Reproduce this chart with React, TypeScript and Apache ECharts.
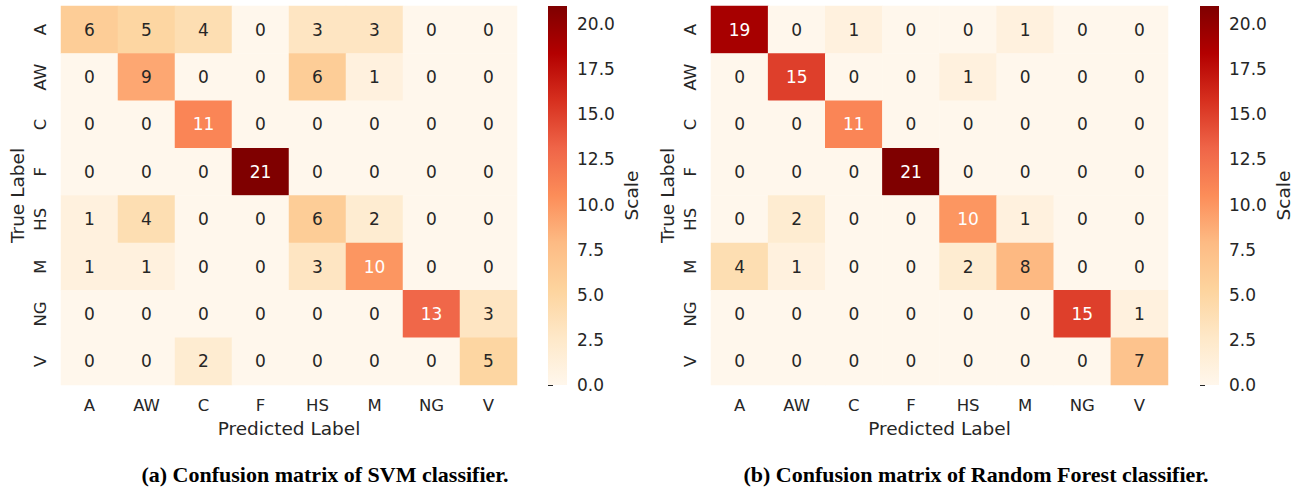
import React, { useEffect, useRef } from "react";
import * as echarts from "echarts";

const labels = ["A", "AW", "C", "F", "HS", "M", "NG", "V"];
const svmMatrix = [
  [6, 5, 4, 0, 3, 3, 0, 0],
  [0, 9, 0, 0, 6, 1, 0, 0],
  [0, 0, 11, 0, 0, 0, 0, 0],
  [0, 0, 0, 21, 0, 0, 0, 0],
  [1, 4, 0, 0, 6, 2, 0, 0],
  [1, 1, 0, 0, 3, 10, 0, 0],
  [0, 0, 0, 0, 0, 0, 13, 3],
  [0, 0, 2, 0, 0, 0, 0, 5],
];
const rfMatrix = [
  [19, 0, 1, 0, 0, 1, 0, 0],
  [0, 15, 0, 0, 1, 0, 0, 0],
  [0, 0, 11, 0, 0, 0, 0, 0],
  [0, 0, 0, 21, 0, 0, 0, 0],
  [0, 2, 0, 0, 10, 1, 0, 0],
  [4, 1, 0, 0, 2, 8, 0, 0],
  [0, 0, 0, 0, 0, 0, 15, 1],
  [0, 0, 0, 0, 0, 0, 0, 7],
];
const scaleMin = 0;
const scaleMax = 21;
const scaleTicks = [0, 2.5, 5, 7.5, 10, 12.5, 15, 17.5, 20];
const orRd = ["#fff7ec", "#fee8c8", "#fdd49e", "#fdbb84", "#fc8d59", "#ef6548", "#d7301f", "#b30000", "#7f0000"];
const captions = ["(a) Confusion matrix of SVM classifier.", "(b) Confusion matrix of Random Forest classifier."];

const FONT = "DejaVu Sans";
const TXT = "#262626";
const TICK_FS = 16.5;
const NAME_FS = 18.5;
const CELL_FS = 17;

function toData(m: number[][]) {
  const out: any[] = [];
  m.forEach((row, r) =>
    row.forEach((v, c) => {
      out.push({
        value: [c, r, v],
        label: { color: v >= 10 ? "#ffffff" : TXT },
      });
    })
  );
  return out;
}

export default function App() {
  const ref = useRef<HTMLDivElement>(null);
  useEffect(() => {
    document.body.style.margin = "0";
    const chart = echarts.init(ref.current!, null, { renderer: "svg" });
    const grids = [
      { left: 61, top: 6, width: 456, height: 379 },
      { left: 548, top: 6, width: 19, height: 379 },
      { left: 711, top: 6, width: 457, height: 379 },
      { left: 1200, top: 6, width: 19, height: 379 },
    ];
    const xAxes: any[] = [];
    const yAxes: any[] = [];
    [0, 2].forEach((gi) => {
      xAxes.push({
        type: "category",
        gridIndex: gi,
        data: labels,
        name: "Predicted Label",
        nameLocation: "middle",
        nameGap: 31,
        nameTextStyle: { fontFamily: FONT, fontSize: NAME_FS, color: TXT },
        axisLine: { show: false },
        axisTick: { show: false },
        axisLabel: { fontFamily: FONT, fontSize: TICK_FS, color: TXT, margin: 12 },
        splitArea: { show: false },
      });
      yAxes.push({
        type: "category",
        gridIndex: gi,
        data: labels,
        inverse: true,
        name: "True Label",
        nameLocation: "middle",
        nameGap: 34,
        nameRotate: 90,
        nameTextStyle: { fontFamily: FONT, fontSize: NAME_FS, color: TXT },
        axisLine: { show: false },
        axisTick: { show: false },
        axisLabel: { fontFamily: FONT, fontSize: TICK_FS, color: TXT, margin: 12, rotate: 90 },
      });
    });
    [1, 3].forEach((gi) => {
      xAxes.push({ type: "value", gridIndex: gi, min: 0, max: 1, show: false });
      yAxes.push({
        type: "value",
        gridIndex: gi,
        min: scaleMin,
        max: scaleMax,
        position: "right",
        name: "Scale",
        nameLocation: "middle",
        nameGap: 55,
        nameRotate: 90,
        nameTextStyle: { fontFamily: FONT, fontSize: NAME_FS, color: TXT },
        axisLine: { show: false },
        splitLine: { show: false },
        axisTick: { show: true, length: 5, lineStyle: { color: TXT }, customValues: scaleTicks },
        axisLabel: {
          fontFamily: FONT,
          fontSize: 17,
          color: TXT,
          margin: 10,
          customValues: scaleTicks,
          formatter: (v: number) => v.toFixed(1),
        },
      });
    });
    const heatSeries = (m: number[][], ai: number) => ({
      type: "heatmap",
      xAxisIndex: ai,
      yAxisIndex: ai,
      data: toData(m),
      label: { show: true, fontFamily: FONT, fontSize: CELL_FS },
      itemStyle: { borderWidth: 0 },
      emphasis: { disabled: true },
    });
    const cbSeries = (ai: number) => ({
      type: "custom",
      xAxisIndex: ai,
      yAxisIndex: ai,
      data: [[0, scaleMin, 1, scaleMax]],
      renderItem: (params: any, api: any) => {
        const p0 = api.coord([api.value(0), api.value(3)]);
        const p1 = api.coord([api.value(2), api.value(1)]);
        return {
          type: "rect",
          shape: { x: p0[0], y: p0[1], width: p1[0] - p0[0], height: p1[1] - p0[1] },
          style: {
            fill: new echarts.graphic.LinearGradient(
              0, 1, 0, 0,
              orRd.map((c, i) => ({ offset: i / (orRd.length - 1), color: c }))
            ),
          },
        };
      },
    });
    chart.setOption({
      animation: false,
      backgroundColor: "#ffffff",
      grid: grids,
      xAxis: xAxes,
      yAxis: yAxes,
      visualMap: {
        type: "continuous",
        show: false,
        min: scaleMin,
        max: scaleMax,
        dimension: 2,
        seriesIndex: [0, 1],
        inRange: { color: orRd },
      },
      series: [heatSeries(svmMatrix, 0), heatSeries(rfMatrix, 1), cbSeries(2), cbSeries(3)],
      graphic: [
        {
          type: "text",
          x: 325,
          y: 474,
          style: {
            text: captions[0],
            font: "bold 22px 'Liberation Serif'",
            fill: "#000",
            align: "center",
            verticalAlign: "middle",
          },
        },
        {
          type: "text",
          x: 976,
          y: 474,
          style: {
            text: captions[1],
            font: "bold 22px 'Liberation Serif'",
            fill: "#000",
            align: "center",
            verticalAlign: "middle",
          },
        },
      ],
    });
    return () => chart.dispose();
  }, []);
  return <div ref={ref} style={{ width: 1299, height: 489 }} />;
}
